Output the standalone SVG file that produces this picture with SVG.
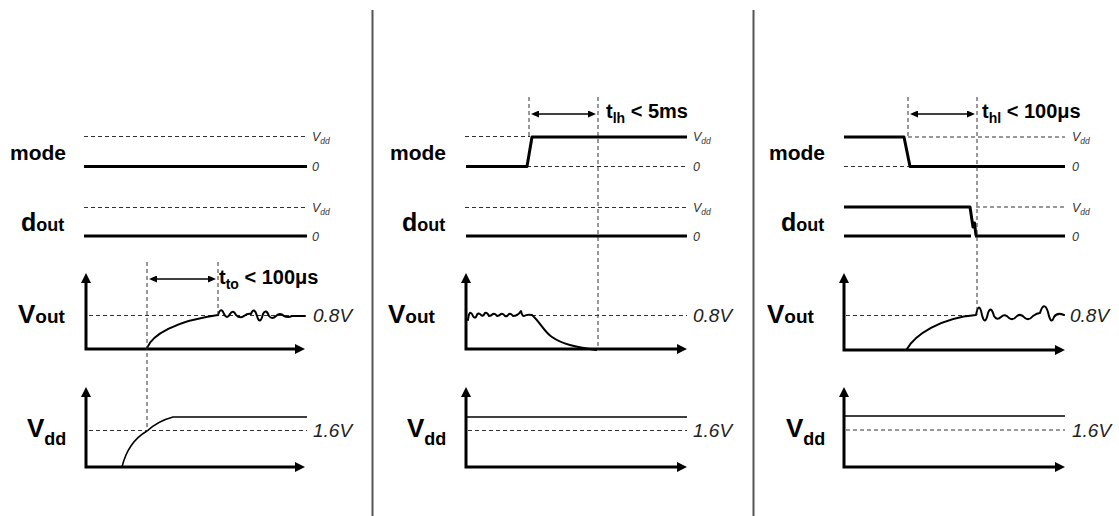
<svg xmlns="http://www.w3.org/2000/svg" width="1119" height="516" viewBox="0 0 1119 516">
<style>
.bg{fill:#fff}
.sig{fill:none;stroke:#000;stroke-width:3;stroke-linejoin:round;stroke-linecap:butt}
.thin{fill:none;stroke:#000;stroke-width:1.5;stroke-linejoin:round}
.wig{fill:none;stroke:#000;stroke-width:2;stroke-linejoin:round;stroke-linecap:round}
.dash{fill:none;stroke:#333;stroke-width:1;stroke-dasharray:4 3}
.axis{fill:none;stroke:#000;stroke-width:3;marker-start:url(#ax);marker-end:url(#ax)}
.dim{fill:none;stroke:#000;stroke-width:1.5;marker-start:url(#dh);marker-end:url(#dh)}
.div{stroke:#555;stroke-width:2}
.lbl{font-family:"Liberation Sans",Arial,sans-serif;font-weight:bold;fill:#000}
.lvl{font-family:"Liberation Sans",Arial,sans-serif;font-style:italic;fill:#333;font-size:12.5px}
.val{font-family:"Liberation Sans",Arial,sans-serif;font-style:italic;fill:#222;font-size:19px}
</style>
<defs>
<marker id="ax" viewBox="0 0 10 10" markerWidth="10" markerHeight="10" markerUnits="userSpaceOnUse" refX="2" refY="5" orient="auto-start-reverse"><path d="M0,0 L10,5 L0,10 z" fill="#000"/></marker>
<marker id="dh" viewBox="0 0 8 7" markerWidth="8" markerHeight="7" markerUnits="userSpaceOnUse" refX="1" refY="3.5" orient="auto-start-reverse"><path d="M0,0 L8,3.5 L0,7 z" fill="#000"/></marker>
</defs>
<rect class="bg" x="0" y="0" width="1119" height="516"/>
<g id="dividers">
<line class="div" x1="372.5" y1="10" x2="372.5" y2="516"/>
<line class="div" x1="753.5" y1="10" x2="753.5" y2="516"/>
</g>

<g id="panel-left">
<text class="lbl" x="10" y="160" font-size="21">mode</text>
<text class="lbl" x="21" y="231"><tspan font-size="25">d</tspan><tspan font-size="18">out</tspan></text>
<text class="lbl" x="18" y="323"><tspan font-size="26">V</tspan><tspan font-size="19">out</tspan></text>
<text class="lbl" x="27" y="437"><tspan font-size="26">V</tspan><tspan font-size="18" dy="8">dd</tspan></text>
<line class="dash" x1="84" y1="136.5" x2="308" y2="136.5"/>
<line class="sig" x1="84" y1="166.5" x2="307" y2="166.5"/>
<text class="lvl" x="312" y="141">V<tspan font-size="8.5" dy="3">dd</tspan></text>
<text class="lvl" x="312" y="171">0</text>
<line class="dash" x1="84" y1="207.5" x2="308" y2="207.5"/>
<line class="sig" x1="84" y1="236" x2="307" y2="236"/>
<text class="lvl" x="312" y="212">V<tspan font-size="8.5" dy="3">dd</tspan></text>
<text class="lvl" x="312" y="241">0</text>
<polyline class="axis" points="86,281 86,349 297,349"/>
<line class="dash" x1="89" y1="315.5" x2="305" y2="315.5"/>
<path class="wig" d="M147,348 C152,335 175,321 218,315 Q221,306 224,314 Q227,320 230,314 Q233,309 236,315 Q240,319 244,316 Q248,313 251,314 Q254,306 257,316 Q260,326 263,314 Q266,308 269,316 Q272,320 276,316 Q280,312 284,316 Q288,318 292,316 L305,316"/>
<text class="val" x="313" y="322">0.8V</text>
<polyline class="axis" points="86,395 86,467 297,467"/>
<line class="dash" x1="89" y1="430.5" x2="307" y2="430.5"/>
<path class="thin" d="M122,467 Q128,442 147,431 Q158,421 173,417 L307,417"/>
<text class="val" x="313" y="437">1.6V</text>
</g>

<g id="panel-middle">
<text class="lbl" x="390" y="160" font-size="21">mode</text>
<text class="lbl" x="402" y="231"><tspan font-size="25">d</tspan><tspan font-size="18">out</tspan></text>
<text class="lbl" x="388" y="323"><tspan font-size="26">V</tspan><tspan font-size="19">out</tspan></text>
<text class="lbl" x="407" y="437"><tspan font-size="26">V</tspan><tspan font-size="18" dy="8">dd</tspan></text>
<line class="dash" x1="465" y1="136.5" x2="530" y2="136.5"/>
<line class="dash" x1="527" y1="166.5" x2="687" y2="166.5"/>
<polyline class="sig" points="466,166.5 527,166.5 532,137 687,137"/>
<text class="lvl" x="693" y="141">V<tspan font-size="8.5" dy="3">dd</tspan></text>
<text class="lvl" x="693" y="171">0</text>
<line class="dash" x1="465" y1="207.5" x2="687" y2="207.5"/>
<line class="sig" x1="466" y1="236" x2="687" y2="236"/>
<text class="lvl" x="693" y="212">V<tspan font-size="8.5" dy="3">dd</tspan></text>
<text class="lvl" x="693" y="241">0</text>
<polyline class="axis" points="466,281 466,349 679,349"/>
<line class="dash" x1="532" y1="315.5" x2="687" y2="315.5"/>
<path class="wig" d="M468,320 Q469,310 472,314 Q474,319 476,317 Q478,311 481,315 Q483,317 485,313 Q487,312 489,316 Q491,316 493,314 Q495,313 497,316 Q499,316 501,314 Q503,313 505,316 Q507,317 509,314 Q511,313 513,316 Q515,316 517,315 Q519,314 521,311 Q522,316 524,316 Q527,314 532,315 C540,322 545,333 552,337 C562,344 575,347 596,350"/>
<text class="val" x="693" y="322">0.8V</text>
<polyline class="axis" points="466,395 466,467 679,467"/>
<line class="thin" x1="466" y1="417" x2="687" y2="417"/>
<line class="dash" x1="468" y1="430.5" x2="687" y2="430.5"/>
<text class="val" x="693" y="437">1.6V</text>
</g>

<g id="panel-right">
<text class="lbl" x="769" y="160" font-size="21">mode</text>
<text class="lbl" x="781" y="231"><tspan font-size="25">d</tspan><tspan font-size="18">out</tspan></text>
<text class="lbl" x="767" y="323"><tspan font-size="26">V</tspan><tspan font-size="19">out</tspan></text>
<text class="lbl" x="786" y="437"><tspan font-size="26">V</tspan><tspan font-size="18" dy="8">dd</tspan></text>
<line class="dash" x1="908" y1="137" x2="1065" y2="137"/>
<line class="dash" x1="844" y1="166.5" x2="910" y2="166.5"/>
<polyline class="sig" points="844,137 904,137 910,166.5 1065,166.5"/>
<text class="lvl" x="1072" y="141">V<tspan font-size="8.5" dy="3">dd</tspan></text>
<text class="lvl" x="1072" y="171">0</text>
<line class="dash" x1="976" y1="207" x2="1065" y2="207"/>
<polyline class="sig" points="844,207 970,207 973,227 974.5,223 976,235.5"/>
<polyline class="sig" points="844,236 971,236"/>
<line class="sig" x1="975" y1="236" x2="1065" y2="236"/>
<text class="lvl" x="1072" y="212">V<tspan font-size="8.5" dy="3">dd</tspan></text>
<text class="lvl" x="1072" y="241">0</text>
<polyline class="axis" points="844,281 844,350 1057,350"/>
<line class="dash" x1="846" y1="315.5" x2="977" y2="315.5"/>
<path class="wig" d="M907,349 C915,335 940,318 976,315 Q979,300 982,315 Q985,327 988,313 Q991,305 994,316 Q997,321 1001,317 Q1005,313 1009,318 Q1013,321 1017,316 Q1021,313 1025,318 Q1029,321 1033,316 Q1037,313 1040,313 Q1044,300 1048,312 Q1051,326 1054,317 Q1057,312 1064,315"/>
<text class="val" x="1070" y="322">0.8V</text>
<polyline class="axis" points="844,395 844,467 1057,467"/>
<line class="thin" x1="844" y1="416" x2="1065" y2="416"/>
<line class="dash" x1="846" y1="430" x2="1065" y2="430"/>
<text class="val" x="1072" y="437">1.6V</text>
</g>

<g id="connectors">
<line class="dash" x1="147" y1="262" x2="147" y2="431"/>
<line class="dash" x1="218" y1="262" x2="218" y2="315"/>
<line class="dim" x1="156" y1="279" x2="209" y2="279"/>
<text class="lbl" x="219" y="284" font-size="20">t<tspan font-size="14" dy="5">to</tspan><tspan dy="-5"> &lt; 100μs</tspan></text>
<line class="dash" x1="529" y1="97" x2="529" y2="137"/>
<line class="dash" x1="598" y1="97" x2="598" y2="350"/>
<line class="dim" x1="538" y1="114" x2="589" y2="114"/>
<text class="lbl" x="606" y="118" font-size="20">t<tspan font-size="14" dy="5">lh</tspan><tspan dy="-5"> &lt; 5ms</tspan></text>
<line class="dash" x1="908" y1="97" x2="908" y2="137"/>
<line class="dash" x1="977" y1="97" x2="977" y2="315"/>
<line class="dim" x1="917" y1="114" x2="968" y2="114"/>
<text class="lbl" x="982" y="118" font-size="20">t<tspan font-size="14" dy="5">hl</tspan><tspan dy="-5"> &lt; 100μs</tspan></text>
</g>
</svg>
